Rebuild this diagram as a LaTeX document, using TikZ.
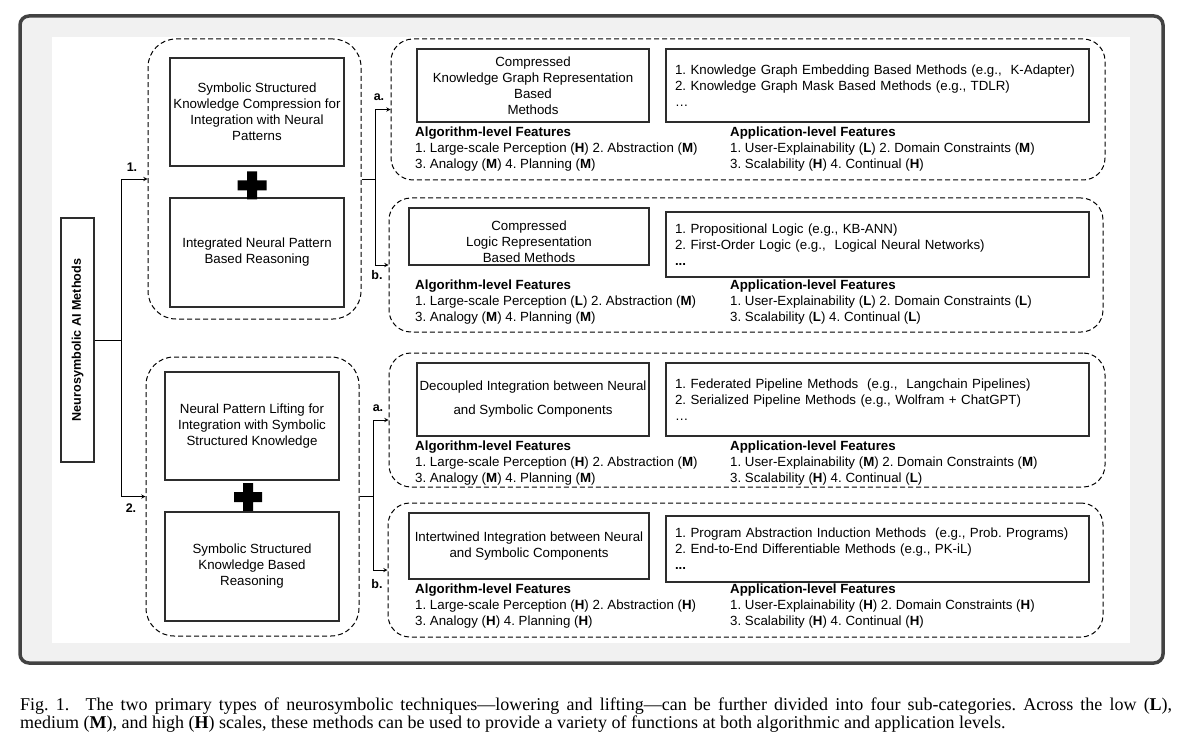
\documentclass[tikz,border=0pt]{standalone}
\usepackage{fontspec}
\setmainfont{Liberation Sans}
\newfontfamily\capfont{Liberation Serif}
\usetikzlibrary{arrows}
\frenchspacing
\definecolor{frameColor}{RGB}{66,66,66}
\definecolor{frameFill}{RGB}{241,241,241}
\definecolor{lineColor}{RGB}{45,45,45}
\newcommand{\boxfont}{\fontsize{13.3pt}{16pt}\selectfont}
\newcommand{\lvl}[1]{(\textbf{#1})}
\tikzstyle{method} = [rectangle, draw=lineColor, line width=1.3pt, align=center, inner sep=2pt, font=\boxfont]
\tikzstyle{examples} = [rectangle, draw=lineColor, line width=1.3pt, align=left, text width=405pt, inner xsep=9pt, inner ysep=2pt, font=\boxfont]
\tikzstyle{group} = [rectangle, rounded corners=22pt, draw=black, line width=1pt, dash pattern=on 5pt off 3pt]
\tikzstyle{feature} = [anchor=north west, inner sep=0pt, align=left, font=\boxfont]
\tikzstyle{tag} = [inner sep=0pt, font=\bfseries\fontsize{12.5pt}{14pt}\selectfont]
\tikzstyle{link} = [line width=0.9pt, draw=black, ->, >=stealth]

\begin{document}
\begin{tikzpicture}[x=1pt, y=-1pt]
\useasboundingbox (0,0) rectangle (1182,743);
% frame
\draw[line width=3.5pt, draw=frameColor, fill=frameFill, rounded corners=9pt] (20,16) rectangle (1163,663);
\fill[white] (52,37) rectangle (1130,643);

\node (ai) [method, rotate=90, minimum width=244pt, minimum height=33pt, font=\bfseries\fontsize{12.6pt}{15pt}\selectfont] at (77.5,340) {Neurosymbolic AI Methods};

% lowering
\node (g1) [group, rounded corners=28pt, minimum width=213pt, minimum height=280pt] at (254.5,179) {};
\node (lower1) [method, minimum width=174pt, minimum height=108pt] at (257,112) {Symbolic Structured\\Knowledge Compression for\\Integration with Neural\\Patterns};
\node (lower2) [method, minimum width=174pt, minimum height=109pt] at (257,252.5) {Integrated Neural Pattern\\Based Reasoning};
\coordinate (plus1) at (252,185.5);
\fill[black, shift={(plus1)}] (-14.5,-5) rectangle (14.5,5) (-5,-14) rectangle (5,14);

% lifting
\node (g2) [group, rounded corners=28pt, minimum width=213pt, minimum height=279pt] at (252.5,496.5) {};
\node (lift1) [method, minimum width=174pt, minimum height=108pt] at (252,426) {Neural Pattern Lifting for\\Integration with Symbolic\\Structured Knowledge};
\node (lift2) [method, minimum width=174pt, minimum height=109pt] at (252,566.5) {Symbolic Structured\\Knowledge Based\\Reasoning};
\coordinate (plus2) at (248,497);
\fill[black, shift={(plus2)}] (-14,-5) rectangle (14,5) (-5,-14) rectangle (5,14);

\coordinate (fork) at (121,340);
\draw[line width=0.9pt] (ai.south) -- (fork);
\draw[link] (fork) |- (g1.west);
\draw[link] (fork) |- (g2.west);
\node (tag1) [tag] at (132,167) {1.};
\node (tag2) [tag] at (131,508) {2.};

% sub-categories
\node (ga1) [group, minimum width=714pt, minimum height=141pt] at (748,109.5) {};
\node (gb1) [group, minimum width=714pt, minimum height=134pt] at (746,265) {};
\node (ga2) [group, minimum width=716pt, minimum height=134pt] at (747,420) {};
\node (gb2) [group, minimum width=715pt, minimum height=134pt] at (745.5,570) {};

\coordinate (fork1) at (375,179);
\draw[line width=0.9pt] (g1.east) -- (fork1);
\draw[link] (fork1) |- (ga1.west);
\draw[link] (fork1) |- (gb1.west);
\coordinate (fork2) at (373,496.5);
\draw[line width=0.9pt] (g2.east) -- (fork2);
\draw[link] (fork2) |- (ga2.west);
\draw[link] (fork2) |- (gb2.west);
\node (taga1) [tag] at (379,97) {a.};
\node (tagb1) [tag] at (377,275) {b.};
\node (taga2) [tag] at (378,408) {a.};
\node (tagb2) [tag] at (377,584) {b.};

% 1a
\node (kg) [method, minimum width=232pt, minimum height=73pt] at (533,85.5) {Compressed\\Knowledge Graph Representation\\Based\\Methods};
\node (kgex) [examples, minimum height=73pt] at (877.5,85.5) {1. Knowledge Graph Embedding Based Methods (e.g., \ K-Adapter)\\2. Knowledge Graph Mask Based Methods (e.g., TDLR)\\\dots};
\node (kgalg) [feature] at (415,127) {\textbf{Algorithm-level Features}\\1. Large-scale Perception \lvl{H} 2. Abstraction \lvl{M}\\3. Analogy \lvl{M} 4. Planning \lvl{M}};
\node (kgapp) [feature] at (730,127) {\textbf{Application-level Features}\\1. User-Explainability \lvl{L} 2. Domain Constraints \lvl{M}\\3. Scalability \lvl{H} 4. Continual \lvl{H}};

% 1b
\node (logic) [method, minimum width=240pt, minimum height=57pt] at (529,236.5) {\raisebox{-6.5pt}[\height][\depth]{\begin{tabular}{@{}c@{}}Compressed\\Logic Representation\\Based Methods\end{tabular}}};
\node (logicex) [examples, minimum height=65pt] at (877.5,244.5) {1. Propositional Logic (e.g., KB-ANN)\\2. First-Order Logic (e.g., \ Logical Neural Networks)\\\textbf{...}};
\node (logicalg) [feature] at (415,280) {\textbf{Algorithm-level Features}\\1. Large-scale Perception \lvl{L} 2. Abstraction \lvl{M}\\3. Analogy \lvl{M} 4. Planning \lvl{M}};
\node (logicapp) [feature] at (730,280) {\textbf{Application-level Features}\\1. User-Explainability \lvl{L} 2. Domain Constraints \lvl{L}\\3. Scalability \lvl{L} 4. Continual \lvl{L}};

% 2a
\node (decoup) [method, minimum width=232pt, minimum height=73pt] at (533,399.5) {Decoupled Integration between Neural\\[8pt]and Symbolic Components};
\node (decoupex) [examples, minimum height=73pt] at (877.5,399.5) {1. Federated Pipeline Methods \ (e.g., \ Langchain Pipelines)\\2. Serialized Pipeline Methods (e.g., Wolfram + ChatGPT)\\\dots};
\node (decoupalg) [feature] at (415,441) {\textbf{Algorithm-level Features}\\1. Large-scale Perception \lvl{H} 2. Abstraction \lvl{M}\\3. Analogy \lvl{M} 4. Planning \lvl{M}};
\node (decoupapp) [feature] at (730,441) {\textbf{Application-level Features}\\1. User-Explainability \lvl{M} 2. Domain Constraints \lvl{M}\\3. Scalability \lvl{H} 4. Continual \lvl{L}};

% 2b
\node (intert) [method, minimum width=240pt, minimum height=66pt] at (529,546) {Intertwined Integration between Neural\\and Symbolic Components};
\node (intertex) [examples, minimum height=66pt] at (877.5,549) {1. Program Abstraction Induction Methods \ (e.g., Prob. Programs)\\2. End-to-End Differentiable Methods (e.g., PK-iL)\\\textbf{...}};
\node (intertalg) [feature] at (415,584) {\textbf{Algorithm-level Features}\\1. Large-scale Perception \lvl{H} 2. Abstraction \lvl{H}\\3. Analogy \lvl{H} 4. Planning \lvl{H}};
\node (intertapp) [feature] at (730,584) {\textbf{Application-level Features}\\1. User-Explainability \lvl{H} 2. Domain Constraints \lvl{H}\\3. Scalability \lvl{H} 4. Continual \lvl{H}};

% caption
\node (caption) [anchor=north west, inner sep=0pt, align=left, font=\capfont\fontsize{18pt}{17.5pt}\selectfont] at (20,698) {\makebox[1152pt][s]{Fig. 1.\hspace{9pt} The two primary types of neurosymbolic techniques—lowering and lifting—can be further divided into four sub-categories. Across the low (\textbf{L}),}\\medium (\textbf{M}), and high (\textbf{H}) scales, these methods can be used to provide a variety of functions at both algorithmic and application levels.};
\end{tikzpicture}
\end{document}
